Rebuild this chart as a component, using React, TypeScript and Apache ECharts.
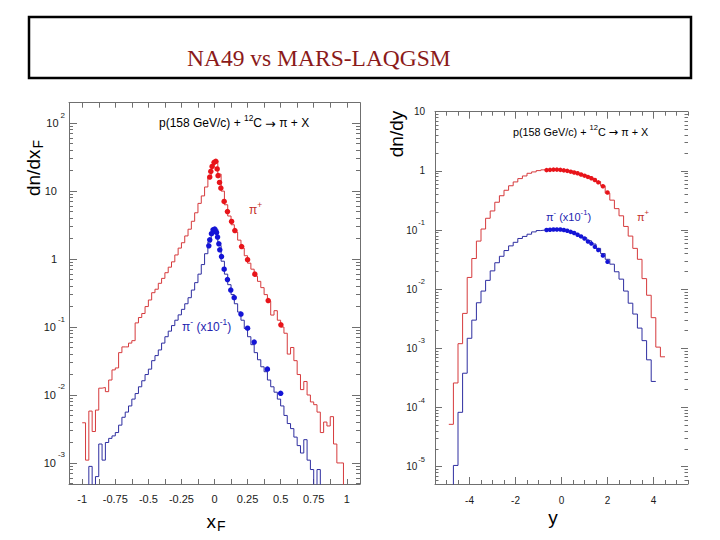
import React, { useEffect, useRef } from "react";
import * as echarts from "echarts";

// ---------------- DATA ----------------
// Left panel: dn/dx_F, MARS-LAQGSM histograms (bins of 0.025 starting at x_F = -1)
const XF_BIN_START = -1.0;
const XF_BIN_WIDTH = 0.025;
const xfModelPiPlus = [
  0.0039, 0.0011, 0.0058, 0.0029, 0.006, 0.0126, 0.0129, 0.0112, 0.0166, 0.0234,
  0.025, 0.042, 0.051, 0.051, 0.058, 0.063, 0.115, 0.138, 0.158, 0.2,
  0.25, 0.32, 0.36, 0.44, 0.52, 0.63, 0.76, 0.91, 1.15, 1.45,
  1.74, 2.19, 2.75, 3.6, 4.8, 6.6, 8.5, 11.5, 15.8, 24,
  27.5, 17.8, 10, 6.3, 4.3, 3.2, 2.5, 1.9, 1.45, 1.12,
  0.87, 0.71, 0.56, 0.47, 0.38, 0.3, 0.24, 0.15, 0.174, 0.126,
  0.1, 0.081, 0.04, 0.05, 0.032, 0.02, 0.012, 0.0158, 0.01, 0.0079,
  0.0072, 0.0056, 0.0028, 0.004, 0.0035, 0.0048, 0.0019, 0.001, 0.001, 0.00025,
];
const xfModelPiMinus = [
  0.0001, 0.0001, 0.00089, 0.0003, 0.00063, 0.0019, 0.0011, 0.002, 0.0023, 0.0025,
  0.0028, 0.0036, 0.0047, 0.0056, 0.0069, 0.0087, 0.0105, 0.0132, 0.0162, 0.02,
  0.024, 0.032, 0.038, 0.046, 0.058, 0.072, 0.087, 0.105, 0.126, 0.151,
  0.182, 0.22, 0.27, 0.35, 0.45, 0.6, 0.83, 1.2, 1.78, 2.5,
  2.75, 1.58, 0.93, 0.6, 0.42, 0.3, 0.22, 0.166, 0.126, 0.095,
  0.072, 0.055, 0.042, 0.033, 0.026, 0.022, 0.0166, 0.0132, 0.011, 0.0087,
  0.0069, 0.005, 0.0038, 0.0032, 0.0024, 0.0018, 0.0014, 0.0022, 0.0011, 0.0008,
  0.00025, 0.0008, 0.0001, 0.0001, 0.0001, 0.0001, 0.0001, 0.0001, 0.0001, 0.0001,
];
// NA49 points
const xfDataPiPlusX = [-0.036, -0.028, -0.018, -0.003, 0.01, 0.02, 0.027, 0.038, 0.048, 0.073, 0.098, 0.129, 0.154, 0.205, 0.25, 0.305, 0.406, 0.502];
const xfDataPiPlusY = [16.1, 19.5, 23.1, 26.5, 27.5, 21.2, 16.9, 13.4, 11.1, 7.05, 5.0, 3.58, 2.63, 1.53, 0.98, 0.6, 0.245, 0.108];
const xfDataPiMinusX = [-0.043, -0.036, -0.023, -0.011, 0.002, 0.015, 0.023, 0.033, 0.04, 0.053, 0.073, 0.098, 0.123, 0.149, 0.2, 0.25, 0.3, 0.4, 0.5];
const xfDataPiMinusY = [1.57, 1.92, 2.36, 2.7, 2.76, 2.47, 2.11, 1.68, 1.37, 1.09, 0.71, 0.5, 0.35, 0.27, 0.155, 0.096, 0.06, 0.024, 0.0106];

// Right panel: dn/dy, MARS-LAQGSM histograms (bins of 0.2 starting at y = -4.9)
const Y_BIN_START = -4.9;
const Y_BIN_WIDTH = 0.2;
const yModelPiPlus = [
  5.2e-5, 2.6e-4, 1.2e-3, 3.9e-3, 0.0158, 0.033, 0.065, 0.104, 0.158, 0.21,
  0.295, 0.38, 0.47, 0.56, 0.65, 0.74, 0.82, 0.91, 0.96, 1.01,
  1.04, 1.05, 1.05, 1.05, 1.05, 1.02, 0.99, 0.94, 0.9, 0.85,
  0.8, 0.74, 0.66, 0.56, 0.42, 0.32, 0.23, 0.174, 0.115, 0.079,
  0.049, 0.032, 0.0151, 0.0079, 0.0033, 0.00105, 0.00072,
];
const yModelPiMinus = [
  1e-6, 1.05e-5, 8.3e-5, 3.8e-4, 1.48e-3, 3.0e-3, 5.9e-3, 9.3e-3, 0.0141, 0.0204,
  0.028, 0.036, 0.045, 0.054, 0.062, 0.072, 0.078, 0.085, 0.093, 0.098,
  0.1, 0.101, 0.102, 0.102, 0.101, 0.098, 0.094, 0.088, 0.081, 0.074,
  0.066, 0.058, 0.049, 0.04, 0.032, 0.0265, 0.0197, 0.0148, 0.0093, 0.0058,
  0.0038, 0.0022, 0.00135, 0.00064, 0.000276,
];
const yDataX = [-0.65, -0.5, -0.35, -0.2, -0.05, 0.1, 0.25, 0.4, 0.55, 0.7, 0.85, 1.0, 1.15, 1.3, 1.45, 1.6, 1.8, 2.0];
const yDataPiPlus = [1.03, 1.04, 1.05, 1.05, 1.04, 1.02, 1.0, 0.97, 0.94, 0.91, 0.87, 0.83, 0.79, 0.75, 0.7, 0.64, 0.55, 0.43];
const yDataPiMinus = [0.1, 0.101, 0.102, 0.102, 0.102, 0.1, 0.097, 0.093, 0.089, 0.083, 0.078, 0.072, 0.064, 0.059, 0.052, 0.046, 0.037, 0.029];

// Tick labels
const XF_TICK_LABELS = [-1, -0.75, -0.5, -0.25, 0, 0.25, 0.5, 0.75, 1];
const XF_TICKS = [-1, -0.875, -0.75, -0.625, -0.5, -0.375, -0.25, -0.125, 0, 0.125, 0.25, 0.375, 0.5, 0.625, 0.75, 0.875, 1];
const Y_TICK_LABELS = [-4, -2, 0, 2, 4];
const Y_TICKS_MINOR = [-5.5, -5, -4.5, -4, -3.5, -3, -2.5, -2, -1.5, -1, -0.5, 0, 0.5, 1, 1.5, 2, 2.5, 3, 3.5, 4, 4.5, 5, 5.5];
const XF_DECADES = [0.001, 0.01, 0.1, 1, 10, 100];
const Y_DECADES = [1e-5, 1e-4, 1e-3, 0.01, 0.1, 1, 10];

// ---------------- STYLE ----------------
const FONT = "'Liberation Sans', Arial, Helvetica, sans-serif";
const ARROW_FONT = "'DejaVu Sans', 'Liberation Sans', sans-serif";
const SERIF = "'Liberation Serif', 'Times New Roman', serif";
const FRAME = "#6f6f6f";
const RED_LINE = "#d63a3c";
const BLUE_LINE = "#2e2ea0";
const RED_DOT = "#e8141a";
const BLUE_DOT = "#1414d6";

function histogram(start: number, width: number, values: number[]) {
  const pts = values.map((v, i) => [start + i * width, v]);
  pts.push([start + values.length * width, values[values.length - 1]]);
  return pts;
}

function minorLogTicks(decades: number[], lo: number, hi: number) {
  const out: number[] = [];
  [decades[0] / 10, ...decades].forEach((d) => {
    for (let m = 2; m <= 9; m++) {
      const v = d * m;
      if (v > lo && v < hi) out.push(v);
    }
  });
  return out;
}

const zip = (xs: number[], ys: number[]) => xs.map((x, i) => [x, ys[i]]);

function powLabel(plain: string) {
  return (v: number) => {
    const e = Math.round(Math.log10(v));
    if (e === 0) return `{${plain}|1}`;
    if (e === 1) return `{${plain}|10}`;
    return `{b|10}{s|${e}}`;
  };
}

export default function App() {
  const ref = useRef<HTMLDivElement>(null);
  useEffect(() => {
    if (!ref.current) return;
    const chart = echarts.init(ref.current, undefined, { renderer: "svg" });

    const L_MIN = 4.9e-4, L_MAX = 200;
    const R_MIN = 5.1e-6, R_MAX = 10;

    const lineAx = { show: true, onZero: false, lineStyle: { color: FRAME, width: 1 } };
    const noLine = { show: false, onZero: false };
    const tick = (vals: number[], len: number) => ({
      show: true, inside: true, length: len, customValues: vals, lineStyle: { color: FRAME, width: 1 },
    });
    const noLabel = { show: false };

    const xAxis: any[] = [
      {
        gridIndex: 0, type: "value", position: "bottom", min: -1.1, max: 1.1,
        axisLine: lineAx, axisTick: tick(XF_TICKS, 5), splitLine: { show: false },
        axisLabel: { show: true, customValues: XF_TICK_LABELS, margin: 9, fontSize: 11, fontFamily: FONT, color: "#1a1a1a" },
      },
      {
        gridIndex: 0, type: "value", position: "top", min: -1.1, max: 1.1,
        axisLine: lineAx, axisTick: tick(XF_TICKS, 5), splitLine: { show: false }, axisLabel: noLabel,
      },
      {
        gridIndex: 1, type: "value", position: "bottom", min: -5.5, max: 5.5,
        axisLine: lineAx, axisTick: tick(Y_TICKS_MINOR, 4), splitLine: { show: false },
        axisLabel: { show: true, customValues: Y_TICK_LABELS, margin: 11, fontSize: 10, fontFamily: FONT, color: "#1a1a1a" },
      },
      {
        gridIndex: 1, type: "value", position: "bottom", min: -5.5, max: 5.5,
        axisLine: noLine, axisTick: tick(Y_TICK_LABELS, 7), splitLine: { show: false }, axisLabel: noLabel,
      },
      {
        gridIndex: 1, type: "value", position: "top", min: -5.5, max: 5.5,
        axisLine: lineAx, axisTick: tick(Y_TICKS_MINOR, 4), splitLine: { show: false }, axisLabel: noLabel,
      },
      {
        gridIndex: 1, type: "value", position: "top", min: -5.5, max: 5.5,
        axisLine: noLine, axisTick: tick(Y_TICK_LABELS, 7), splitLine: { show: false }, axisLabel: noLabel,
      },
    ];

    const leftMinor = minorLogTicks(XF_DECADES, L_MIN, L_MAX);
    const rightMinor = minorLogTicks(Y_DECADES, R_MIN, R_MAX);

    const yAxis: any[] = [
      {
        gridIndex: 0, type: "log", logBase: 10, position: "left", min: L_MIN, max: L_MAX,
        axisLine: lineAx, axisTick: tick(XF_DECADES, 8), splitLine: { show: false }, minorTick: { show: false },
        axisLabel: {
          show: true, customValues: XF_DECADES, margin: 4, formatter: powLabel("bp"),
          rich: {
            b: { fontSize: 11, fontFamily: FONT, color: "#1a1a1a" },
            bp: { fontSize: 11, fontFamily: FONT, color: "#1a1a1a", padding: [0, 8, 0, 0] },
            s: { fontSize: 8, fontFamily: FONT, color: "#1a1a1a", padding: [0, 0, 16, 2] },
          },
        },
      },
      {
        gridIndex: 0, type: "log", logBase: 10, position: "left", min: L_MIN, max: L_MAX,
        axisLine: noLine, axisTick: tick(leftMinor, 4), splitLine: { show: false }, axisLabel: noLabel,
      },
      {
        gridIndex: 0, type: "log", logBase: 10, position: "right", min: L_MIN, max: L_MAX,
        axisLine: lineAx, axisTick: tick(XF_DECADES, 8), splitLine: { show: false }, axisLabel: noLabel,
      },
      {
        gridIndex: 0, type: "log", logBase: 10, position: "right", min: L_MIN, max: L_MAX,
        axisLine: noLine, axisTick: tick(leftMinor, 4), splitLine: { show: false }, axisLabel: noLabel,
      },
      {
        gridIndex: 1, type: "log", logBase: 10, position: "left", min: R_MIN, max: R_MAX,
        axisLine: lineAx, axisTick: tick(Y_DECADES, 7), splitLine: { show: false }, minorTick: { show: false },
        axisLabel: {
          show: true, customValues: Y_DECADES, margin: 10, formatter: powLabel("b"),
          rich: {
            b: { fontSize: 10, fontFamily: FONT, color: "#1a1a1a" },
            s: { fontSize: 7.5, fontFamily: FONT, color: "#1a1a1a", padding: [0, 0, 15, 1] },
          },
        },
      },
      {
        gridIndex: 1, type: "log", logBase: 10, position: "left", min: R_MIN, max: R_MAX,
        axisLine: noLine, axisTick: tick(rightMinor, 3.5), splitLine: { show: false }, axisLabel: noLabel,
      },
      {
        gridIndex: 1, type: "log", logBase: 10, position: "right", min: R_MIN, max: R_MAX,
        axisLine: noLine, axisTick: tick(Y_DECADES, 7), splitLine: { show: false }, axisLabel: noLabel,
      },
      {
        gridIndex: 1, type: "log", logBase: 10, position: "right", min: R_MIN, max: R_MAX,
        axisLine: noLine, axisTick: tick(rightMinor, 3.5), splitLine: { show: false }, axisLabel: noLabel,
      },
    ];

    const histLine = (xi: number, yi: number, data: number[][], color: string) => ({
      type: "line", xAxisIndex: xi, yAxisIndex: yi, step: "end", data, showSymbol: false, symbol: "none",
      lineStyle: { color, width: 1 }, itemStyle: { color }, clip: true, z: 2, silent: true,
    });
    const dots = (xi: number, yi: number, data: number[][], color: string, size: number) => ({
      type: "scatter", xAxisIndex: xi, yAxisIndex: yi, data, symbol: "circle", symbolSize: size,
      itemStyle: { color, opacity: 1 }, z: 3, silent: true,
    });

    const supRich = (size: number, color: string) => ({
      p: { fontSize: size, fontFamily: FONT, fill: color },
      a: { fontSize: size * 1.05, fontFamily: ARROW_FONT, fill: color },
      s: { fontSize: size * 0.7, fontFamily: FONT, fill: color, padding: [0, 0, size * 0.9, 0] },
    });

    const text = (x: number, y: number, str: string, rich: any) => ({
      type: "text", x, y, z: 10,
      style: { text: str, rich, verticalAlign: "middle", align: "left", fill: "#000" },
    });

    const graphic: any[] = [
      {
        type: "rect", z: 10, shape: { x: 29, y: 17, width: 662, height: 61 },
        style: { fill: "#ffffff", stroke: "#000000", lineWidth: 2.5 },
      },
      {
        type: "text", x: 187, y: 58, z: 11,
        style: { text: "NA49 vs MARS-LAQGSM", font: `23.5px ${SERIF}`, fill: "#8b1a1a", verticalAlign: "middle", align: "left" },
      },
      {
        type: "text", x: 33, y: 168, rotation: Math.PI / 2, z: 10,
        style: {
          text: "{a|dn/dx}{b|F}", align: "center", verticalAlign: "middle", fill: "#000",
          rich: {
            a: { fontSize: 19, fontFamily: FONT, fill: "#000" },
            b: { fontSize: 14, fontFamily: FONT, fill: "#000", padding: [10, 0, 0, 1] },
          },
        },
      },
      {
        type: "text", x: 216, y: 521, z: 10,
        style: {
          text: "{a|x}{b|F}", align: "center", verticalAlign: "middle", fill: "#000",
          rich: {
            a: { fontSize: 19, fontFamily: FONT, fill: "#000" },
            b: { fontSize: 14, fontFamily: FONT, fill: "#000", padding: [10, 0, 0, 1] },
          },
        },
      },
      {
        type: "text", x: 396, y: 134, rotation: Math.PI / 2, z: 10,
        style: { text: "dn/dy", font: `19px ${FONT}`, align: "center", verticalAlign: "middle", fill: "#000" },
      },
      {
        type: "text", x: 553, y: 517, z: 10,
        style: { text: "y", font: `19px ${FONT}`, align: "center", verticalAlign: "middle", fill: "#000" },
      },
      text(159, 123, "{p|p(158 GeV/c) + }{s|12}{p|C }{a|→}{p| π + X}", supRich(12, "#000")),
      text(513, 132, "{p|p(158 GeV/c) + }{s|12}{p|C }{a|→}{p| π + X}", supRich(10.8, "#000")),
      text(249, 210, "{p|π}{s|+}", supRich(12, "#c4302b")),
      text(182, 327, "{p|π}{s|-}{p| (x10}{s|-1}{p|)}", supRich(12, "#2424b0")),
      text(546, 217, "{p|π}{s|-}{p| (x10}{s|-1}{p|)}", supRich(11, "#2424b0")),
      text(637, 217, "{p|π}{s|+}", supRich(11, "#c4302b")),
    ];

    const option: any = {
      animation: false,
      backgroundColor: "#ffffff",
      grid: [
        { left: 69, top: 102.7, width: 291, height: 381.3, containLabel: false },
        { left: 435, top: 111.7, width: 253, height: 372.3, containLabel: false },
      ],
      xAxis,
      yAxis,
      series: [
        histLine(0, 0, histogram(XF_BIN_START, XF_BIN_WIDTH, xfModelPiPlus), RED_LINE),
        histLine(0, 0, histogram(XF_BIN_START, XF_BIN_WIDTH, xfModelPiMinus), BLUE_LINE),
        dots(0, 0, zip(xfDataPiPlusX, xfDataPiPlusY), RED_DOT, 5.5),
        dots(0, 0, zip(xfDataPiMinusX, xfDataPiMinusY), BLUE_DOT, 5.5),
        histLine(2, 4, histogram(Y_BIN_START, Y_BIN_WIDTH, yModelPiPlus), RED_LINE),
        histLine(2, 4, histogram(Y_BIN_START, Y_BIN_WIDTH, yModelPiMinus), BLUE_LINE),
        dots(2, 4, zip(yDataX, yDataPiPlus), RED_DOT, 4.5),
        dots(2, 4, zip(yDataX, yDataPiMinus), BLUE_DOT, 4.5),
      ],
      graphic,
    };
    chart.setOption(option);
    return () => chart.dispose();
  }, []);

  return (
    <div
      ref={ref}
      style={{ position: "absolute", left: 0, top: 0, width: 720, height: 540, background: "#fff" }}
    />
  );
}
